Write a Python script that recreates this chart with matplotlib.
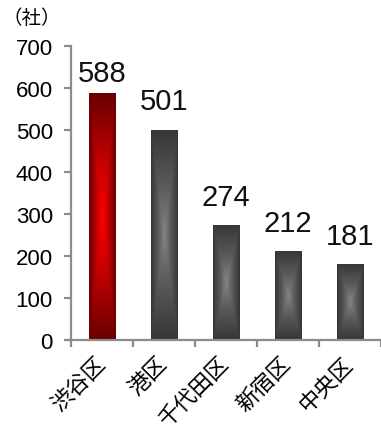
import numpy as np
import matplotlib
matplotlib.use("Agg")
import matplotlib.pyplot as plt
from matplotlib.colors import LinearSegmentedColormap
from matplotlib.patches import Rectangle

# Companies per ward
wards = ["渋谷区", "港区", "千代田区", "新宿区", "中央区"]
counts = [588, 501, 274, 212, 181]
unit_label = "（社）"
yticks = [0, 100, 200, 300, 400, 500, 600, 700]

highlight_cmap = LinearSegmentedColormap.from_list("hl", ["#ff0000", "#c00000", "#6a0000"])
normal_cmap = LinearSegmentedColormap.from_list("nm", ["#868686", "#5a5a5a", "#363636"])

plt.rcParams["font.family"] = ["Liberation Sans", "Noto Sans CJK JP", "DejaVu Sans"]

fig = plt.figure(figsize=(3.81, 4.35), dpi=100)
ax = fig.add_axes([71 / 381, 1 - 341 / 435, 1 - 71 / 381 - 0.001, (341 - 47) / 435])

x = np.arange(len(wards))
bar_w = 0.42

# Rectangular "from center" shading for each bar
nx, ny = 60, 400
gx = np.linspace(-1, 1, nx)
gy = np.linspace(-1, 1, ny)
GX, GY = np.meshgrid(gx, gy)
shade = np.maximum(np.abs(GX), np.abs(GY)) ** 0.9

for i, (xi, v) in enumerate(zip(x, counts)):
    cmap = highlight_cmap if i == 0 else normal_cmap
    left, right = xi - bar_w / 2, xi + bar_w / 2
    im = ax.imshow(shade, cmap=cmap, vmin=0, vmax=1, extent=(left, right, 0, v),
                   origin="lower", aspect="auto", interpolation="bilinear", zorder=2)
    clip = Rectangle((left, 0), bar_w, v, transform=ax.transData, facecolor="none", edgecolor="none")
    ax.add_patch(clip)
    im.set_clip_path(clip)
    ax.text(xi, min(v + 48, 617), str(v), ha="center", va="baseline", fontsize=21,
            color="#111111", zorder=3)

ax.set_xlim(-0.5, len(wards) - 0.5)
ax.set_ylim(0, 700)

spine_c = "#8c8c8c"
for s in ["top", "right"]:
    ax.spines[s].set_visible(False)
for s in ["left", "bottom"]:
    ax.spines[s].set_color(spine_c)
    ax.spines[s].set_linewidth(1.6)

ax.set_yticks(yticks)
ax.set_yticklabels([str(t) for t in yticks], fontsize=16)
ax.tick_params(axis="y", direction="out", length=5, width=1.6, color=spine_c, pad=8)

ax.set_xticks(x)
ax.set_xticklabels(wards, rotation=45, ha="right", va="center", rotation_mode="anchor",
                   fontsize=16, family=["Noto Sans CJK JP", "DejaVu Sans"])
ax.tick_params(axis="x", which="major", length=0, pad=14)
ax.set_xticks(np.arange(len(wards) + 1) - 0.5, minor=True)
ax.tick_params(axis="x", which="minor", direction="out", length=5, width=1.6, color=spine_c)

fig.text(3 / 381, 1 - 18 / 435, unit_label, fontsize=14, va="center", ha="left",
         family=["Noto Sans CJK JP", "DejaVu Sans"])

fig.savefig("out.png", dpi=100)
